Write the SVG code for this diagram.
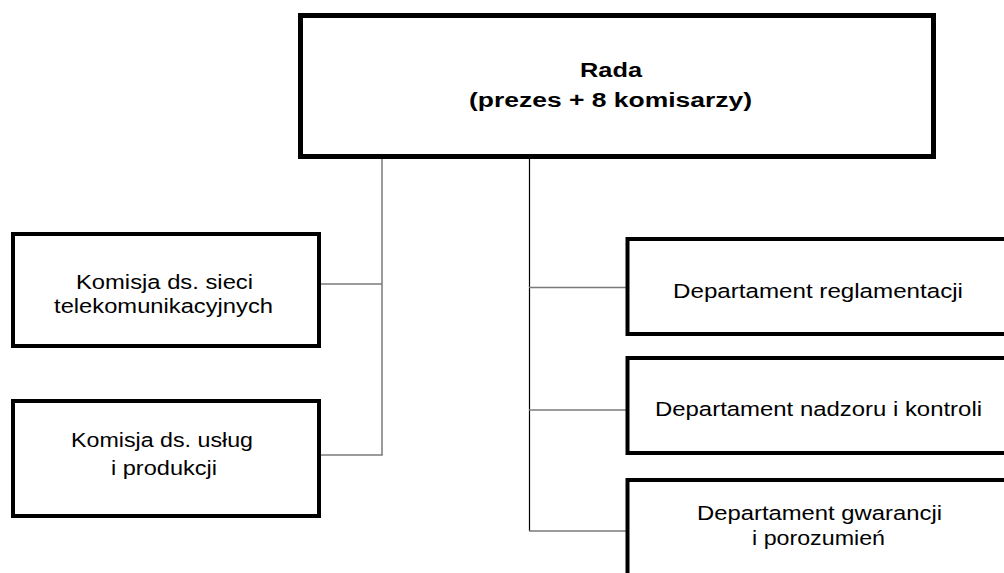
<svg xmlns="http://www.w3.org/2000/svg" width="1004" height="573" viewBox="0 0 1004 573">
  <style>
    .box { fill: #ffffff; stroke: #000000; stroke-width: 4; }
    .top { stroke-width: 5; }
    .lbl { font-family: "Liberation Sans", Arial, sans-serif; font-size: 19.5px; fill: #000000; text-anchor: middle; }
    .bold { font-weight: bold; font-size: 20px; }
    .grey { fill: none; stroke: #7a7a7a; stroke-width: 1.5; }
    .blk { fill: none; stroke: #000000; stroke-width: 1.2; }
  </style>
  <rect width="1004" height="573" fill="#ffffff"/>

  <g id="connectors">
    <!-- left trunk and its branches -->
    <line class="grey" x1="382" y1="159" x2="382" y2="455"/>
    <line class="grey" x1="321" y1="284" x2="382" y2="284"/>
    <line class="grey" x1="321" y1="455" x2="382.75" y2="455"/>
    <!-- right trunk and its branches -->
    <line class="blk" x1="529.5" y1="159" x2="529.5" y2="531"/>
    <line class="grey" x1="529" y1="287.5" x2="626" y2="287.5"/>
    <line class="grey" x1="529" y1="410" x2="626" y2="410"/>
    <line class="grey" x1="529" y1="531" x2="626" y2="531"/>
  </g>

  <!-- labels are set in a horizontally widened face: scale(1.27 1) about each line's centre -->
  <g id="rada">
    <rect class="box top" x="300.5" y="15.5" width="633" height="141"/>
    <text class="lbl bold" transform="translate(611 0) scale(1.27 1)" x="0" y="77" textLength="48.8" lengthAdjust="spacingAndGlyphs">Rada</text>
    <text class="lbl bold" transform="translate(610.5 0) scale(1.27 1)" x="0" y="107" textLength="222.8" lengthAdjust="spacingAndGlyphs">(prezes + 8 komisarzy)</text>
  </g>

  <g id="komisja-sieci">
    <rect class="box" x="13" y="234" width="306" height="112"/>
    <text class="lbl" transform="translate(164.5 0) scale(1.27 1)" x="0" y="289" textLength="139.4" lengthAdjust="spacingAndGlyphs">Komisja ds. sieci</text>
    <text class="lbl" transform="translate(163.5 0) scale(1.27 1)" x="0" y="313" textLength="172.4" lengthAdjust="spacingAndGlyphs">telekomunikacyjnych</text>
  </g>

  <g id="komisja-uslug">
    <rect class="box" x="13" y="401" width="306" height="115"/>
    <text class="lbl" transform="translate(162 0) scale(1.27 1)" x="0" y="447" textLength="143.3" lengthAdjust="spacingAndGlyphs">Komisja ds. usług</text>
    <text class="lbl" transform="translate(164 0) scale(1.27 1)" x="0" y="475" textLength="83.5" lengthAdjust="spacingAndGlyphs">i produkcji</text>
  </g>

  <g id="dep-reglamentacji">
    <rect class="box" x="627.5" y="239" width="400" height="95"/>
    <text class="lbl" transform="translate(818 0) scale(1.27 1)" x="0" y="298" textLength="228.3" lengthAdjust="spacingAndGlyphs">Departament reglamentacji</text>
  </g>

  <g id="dep-nadzoru">
    <rect class="box" x="627.5" y="358" width="400" height="95"/>
    <text class="lbl" transform="translate(818.5 0) scale(1.27 1)" x="0" y="416" textLength="257.5" lengthAdjust="spacingAndGlyphs">Departament nadzoru i kontroli</text>
  </g>

  <g id="dep-gwarancji">
    <rect class="box" x="627.5" y="480" width="400" height="120"/>
    <text class="lbl" transform="translate(819.5 0) scale(1.27 1)" x="0" y="520" textLength="192.9" lengthAdjust="spacingAndGlyphs">Departament gwarancji</text>
    <text class="lbl" transform="translate(818.5 0) scale(1.27 1)" x="0" y="545" textLength="104.7" lengthAdjust="spacingAndGlyphs">i porozumień</text>
  </g>
</svg>
